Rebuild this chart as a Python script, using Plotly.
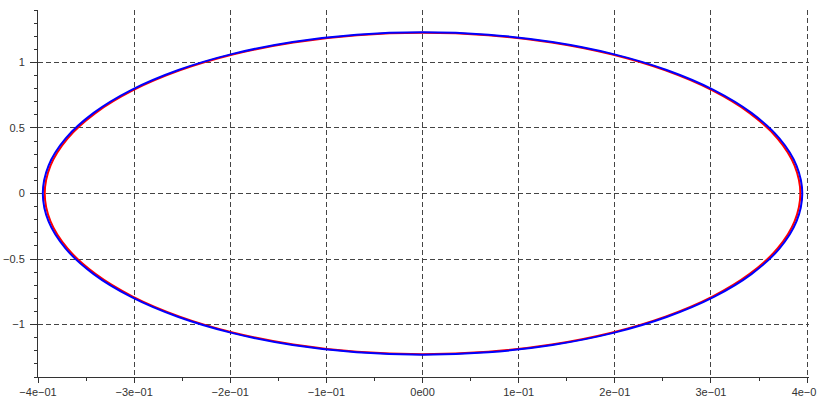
import plotly.graph_objects as go

# Ellipse traces (points at 10 degree steps around the curve)
blue_x = [0.395, 0.389, 0.3712, 0.3421, 0.3026, 0.2539, 0.1975, 0.1351, 0.0686, 0.0,
          -0.0686, -0.1351, -0.1975, -0.2539, -0.3026, -0.3421, -0.3712, -0.389, -0.395,
          -0.389, -0.3712, -0.3421, -0.3026, -0.2539, -0.1975, -0.1351, -0.0686, 0.0,
          0.0686, 0.1351, 0.1975, 0.2539, 0.3026, 0.3421, 0.3712, 0.389, 0.395]
blue_y = [0.0, 0.2135, 0.4207, 0.615, 0.7906, 0.9422, 1.0652, 1.1558, 1.2113, 1.23,
          1.2113, 1.1558, 1.0652, 0.9422, 0.7906, 0.615, 0.4207, 0.2135, 0.0,
          -0.2135, -0.4207, -0.615, -0.7906, -0.9422, -1.0652, -1.1558, -1.2113, -1.23,
          -1.2113, -1.1558, -1.0652, -0.9422, -0.7906, -0.615, -0.4207, -0.2135, 0.0]
red_x = [0.393, 0.387, 0.3693, 0.3403, 0.3010, 0.2526, 0.1965, 0.1344, 0.0682, 0.0,
         -0.0682, -0.1344, -0.1965, -0.2526, -0.3010, -0.3403, -0.3693, -0.387, -0.393,
         -0.387, -0.3693, -0.3403, -0.3010, -0.2526, -0.1965, -0.1344, -0.0682, 0.0,
         0.0682, 0.1344, 0.1965, 0.2526, 0.3010, 0.3403, 0.3693, 0.387, 0.393]
red_y = [0.0, 0.2128, 0.4193, 0.613, 0.7881, 0.9391, 1.0617, 1.1521, 1.2074, 1.226,
         1.2074, 1.1521, 1.0617, 0.9391, 0.7881, 0.613, 0.4193, 0.2128, 0.0,
         -0.2128, -0.4193, -0.613, -0.7881, -0.9391, -1.0617, -1.1521, -1.2074, -1.226,
         -1.2074, -1.1521, -1.0617, -0.9391, -0.7881, -0.613, -0.4193, -0.2128, 0.0]

x_tickvals = [-0.4, -0.3, -0.2, -0.1, 0.0, 0.1, 0.2, 0.3, 0.4]
x_ticktext = ["\u22124e\u221201", "\u22123e\u221201", "\u22122e\u221201", "\u22121e\u221201", "0e00",
              "1e\u221201", "2e\u221201", "3e\u221201", "4e\u221201"]

fig = go.Figure()
fig.add_trace(go.Scatter(x=red_x, y=red_y, mode="lines", line=dict(color="#ff0000", width=2, shape="spline"),
                         showlegend=False, hoverinfo="skip"))
fig.add_trace(go.Scatter(x=blue_x, y=blue_y, mode="lines", line=dict(color="#0000ff", width=2, shape="spline"),
                         showlegend=False, hoverinfo="skip"))

grid = dict(showgrid=True, gridcolor="#444444", gridwidth=1, griddash="5px,3px")
fig.update_layout(
    width=817, height=398,
    margin=dict(l=38, r=8, t=10, b=21),
    paper_bgcolor="white", plot_bgcolor="white",
    font=dict(family="Liberation Sans, Arial, sans-serif", size=11, color="#333333"),
    xaxis=dict(range=[-0.4, 0.402], tickmode="array", tickvals=x_tickvals, ticktext=x_ticktext,
               ticks="outside", ticklen=5, tickcolor="#333333", showline=True, linecolor="#333333",
               zeroline=False, automargin=False, ticklabeloverflow="allow",
               minor=dict(tickmode="linear", tick0=-0.4, dtick=0.05, ticks="outside", ticklen=3,
                          tickcolor="#333333", showgrid=False),
               **grid),
    yaxis=dict(range=[-1.4, 1.4], tickmode="linear", tick0=0, dtick=0.5,
               ticks="outside", ticklen=7, tickcolor="#333333", showline=True, linecolor="#333333",
               zeroline=False, automargin=False, ticklabelstandoff=3,
               minor=dict(tickmode="linear", tick0=0, dtick=0.1, ticks="outside", ticklen=3,
                          tickcolor="#333333", showgrid=False),
               **grid),
)
fig.write_html("out.html", config={"displayModeBar": False},
               post_script="document.body.style.margin='0';document.body.style.overflow='hidden';")
